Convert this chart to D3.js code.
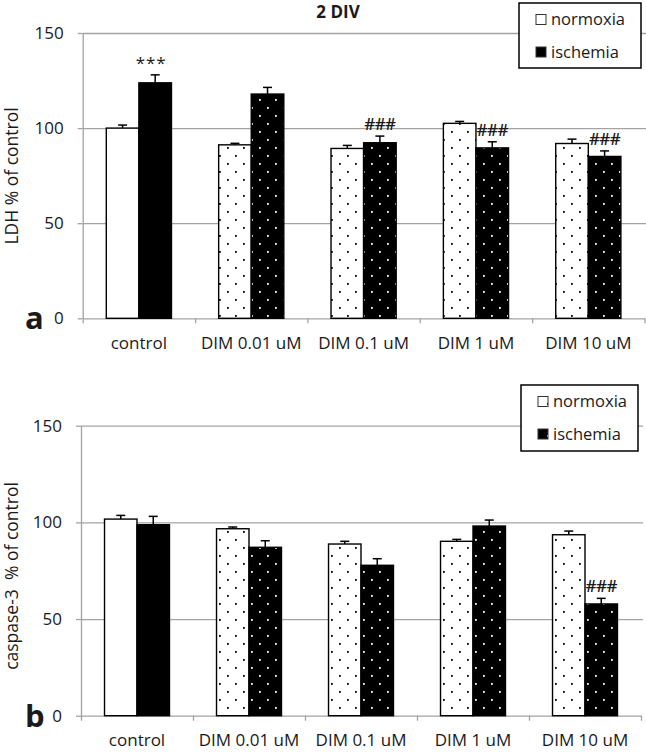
<!DOCTYPE html>
<html><head><meta charset="utf-8">
<script src="https://cdn.jsdelivr.net/npm/d3@7"></script>
<style>body{margin:0;background:#fff} svg{display:block} text{font-family:"Open Sans",sans-serif;fill:#1a1a1a}</style>
</head><body><svg id="c" width="646" height="753"></svg>
<script>
const categories = ["control", "DIM 0.01 uM", "DIM 0.1 uM", "DIM 1 uM", "DIM 10 uM"];
const seriesNames = ["normoxia", "ischemia"];
const dotted = [false, true, true, true, true];
const yTicks = [0, 50, 100, 150];

const ldhNormoxia = [100, 91.2, 89.3, 102.5, 91.9];
const ldhNormoxiaErr = [1.6, 0.8, 1.6, 1.0, 2.3];
const ldhIschemia = [123.8, 117.9, 92.3, 89.6, 85.1];
const ldhIschemiaErr = [4.2, 3.5, 3.5, 3.2, 2.9];
const ldhMarks = ["***", "", "###", "###", "###"];

const casNormoxia = [101.7, 96.7, 88.8, 90.2, 93.6];
const casNormoxiaErr = [1.9, 0.9, 1.4, 1.0, 1.9];
const casIschemia = [98.8, 87.1, 77.8, 98.1, 57.8];
const casIschemiaErr = [4.3, 3.4, 3.4, 3.1, 2.9];
const casMarks = ["", "", "", "", "###"];

const svg = d3.select("#c");
const defs = svg.append("defs");
function dotPattern(id, bg, fg) {
  const p = defs.append("pattern").attr("id", id).attr("patternUnits", "userSpaceOnUse")
    .attr("width", 16).attr("height", 16);
  p.append("rect").attr("width", 16).attr("height", 16).attr("fill", bg);
  [[3, 3], [11, 11]].forEach(([x, y]) => p.append("rect").attr("x", x).attr("y", y)
    .attr("width", 1.8).attr("height", 1.8).attr("fill", fg));
}
dotPattern("dotW", "#fff", "#000");
dotPattern("dotB", "#000", "#fff");

const panels = [
  { norm: ldhNormoxia, normErr: ldhNormoxiaErr, isch: ldhIschemia, ischErr: ldhIschemiaErr, marks: ldhMarks,
    yLabel: "LDH % of control", yLabelC: 176, letter: "a", letterY: 329,
    x0: 82.7, x1: 644.5, yTop: 33, yZero: 318.3, lx: 519, ly: 3, lw: 122, lh: 65, title: "2 DIV" },
  { norm: casNormoxia, normErr: casNormoxiaErr, isch: casIschemia, ischErr: casIschemiaErr, marks: casMarks,
    yLabel: "caspase-3  % of control", yLabelC: 576, letter: "b", letterY: 727,
    x0: 81, x1: 641, yTop: 425.7, yZero: 715.7, lx: 521, ly: 385, lw: 117, lh: 66, title: null }
];

const gridColor = "#a3a3a3";

panels.forEach(p => {
  const g = svg.append("g");
  const x = d3.scaleBand().domain(categories).range([p.x0, p.x1]).paddingInner(0.42).paddingOuter(0.21);
  const xs = d3.scaleBand().domain(seriesNames).range([0, x.bandwidth()]);
  const y = d3.scaleLinear().domain([0, 150]).range([p.yZero, p.yTop]);
  const xb = d3.scaleLinear().domain([0, categories.length]).range([p.x0, p.x1]);

  // gridlines
  const grid = g.append("g").attr("transform", `translate(${p.x0},0)`)
    .call(d3.axisLeft(y).tickValues(yTicks.filter(d => d > 0)).tickSize(-(p.x1 - p.x0 + 2)).tickFormat(""));
  grid.select(".domain").remove();
  grid.selectAll("line").attr("stroke", gridColor).attr("stroke-width", 1.3);

  // y axis
  const ya = g.append("g").attr("transform", `translate(${p.x0},0)`)
    .call(d3.axisLeft(y).tickValues(yTicks).tickSize(5).tickSizeOuter(0).tickPadding(14));
  ya.select(".domain").attr("stroke", gridColor).attr("stroke-width", 1.3);
  ya.selectAll("line").attr("stroke", gridColor).attr("stroke-width", 1.3);
  ya.selectAll("text").attr("font-size", 17).attr("font-family", "Open Sans").attr("fill", "#1a1a1a");

  // x axis boundaries ticks
  const xa = g.append("g").attr("transform", `translate(0,${p.yZero})`)
    .call(d3.axisBottom(xb).tickValues(d3.range(categories.length + 1)).tickSize(5).tickSizeOuter(0).tickFormat(""));
  xa.select(".domain").attr("stroke", gridColor).attr("stroke-width", 1.3);
  xa.selectAll("line").attr("stroke", gridColor).attr("stroke-width", 1.3);
  // x labels
  const xl = g.append("g").attr("transform", `translate(0,${p.yZero})`)
    .call(d3.axisBottom(x).tickSize(0).tickPadding(18.5));
  xl.select(".domain").remove();
  xl.selectAll("text").attr("font-size", 17).attr("font-family", "Open Sans").attr("fill", "#1a1a1a");

  // bars
  const bars = [];
  categories.forEach((c, i) => {
    bars.push({ c, s: "normoxia", v: p.norm[i], e: p.normErr[i], fill: dotted[i] ? "url(#dotW)" : "#fff" });
    bars.push({ c, s: "ischemia", v: p.isch[i], e: p.ischErr[i], fill: dotted[i] ? "url(#dotB)" : "#000", m: p.marks[i] });
  });
  const cx = d => x(d.c) + xs(d.s) + xs.bandwidth() / 2;
  g.append("g").selectAll("line").data(bars).join("line")
    .attr("x1", cx).attr("x2", cx)
    .attr("y1", d => y(d.v)).attr("y2", d => y(d.v + d.e)).attr("stroke", "#000").attr("stroke-width", 1.5);
  g.append("g").selectAll("line").data(bars).join("line")
    .attr("x1", d => cx(d) - 4.5).attr("x2", d => cx(d) + 4.5)
    .attr("y1", d => y(d.v + d.e)).attr("y2", d => y(d.v + d.e)).attr("stroke", "#000").attr("stroke-width", 1.5);
  g.append("g").selectAll("rect").data(bars).join("rect")
    .attr("x", d => x(d.c) + xs(d.s)).attr("width", xs.bandwidth())
    .attr("y", d => y(d.v)).attr("height", d => y(0) - y(d.v))
    .attr("fill", d => d.fill).attr("stroke", "#000").attr("stroke-width", 1.4);
  g.append("g").selectAll("text").data(bars.filter(d => d.m)).join("text")
    .attr("x", d => cx(d) - (d.m === "***" ? 4 : 0))
    .attr("y", d => y(d.v + d.e) - 6)
    .attr("text-anchor", "middle").attr("font-size", 17)
    .attr("font-weight", d => d.m === "###" ? 600 : 400)
    .attr("letter-spacing", d => d.m === "***" ? 1 : -0.5)
    .attr("fill", "#111")
    .text(d => d.m);

  // y label
  g.append("text").attr("transform", `translate(18,${p.yLabelC}) rotate(-90)`)
    .attr("text-anchor", "middle").attr("font-size", 17.5).style("white-space", "pre").text(p.yLabel);
  // panel letter
  g.append("text").attr("x", 25).attr("y", p.letterY).attr("font-family", "Liberation Sans, Arial, sans-serif")
    .attr("font-weight", "bold").attr("font-size", 31).attr("fill", "#000").text(p.letter);
  // title
  if (p.title) g.append("text").attr("x", 338).attr("y", 18).attr("text-anchor", "middle")
    .attr("font-weight", "bold").attr("font-size", 17).attr("fill", "#000").text(p.title);

  // legend
  const lg = g.append("g");
  lg.append("rect").attr("x", p.lx).attr("y", p.ly).attr("width", p.lw).attr("height", p.lh)
    .attr("fill", "#fff").attr("stroke", "#000").attr("stroke-width", 1.5);
  seriesNames.forEach((s, i) => {
    const cy = p.ly + 16.5 + i * 32.5;
    lg.append("rect").attr("x", p.lx + 17).attr("y", cy - 5).attr("width", 10).attr("height", 10)
      .attr("fill", i === 0 ? "url(#dotW)" : "url(#dotB)").attr("stroke", "#333").attr("stroke-width", 1);
    lg.append("text").attr("x", p.lx + 32).attr("y", cy).attr("dy", "0.35em").attr("font-size", 16.5).text(s);
  });
});
</script></body></html>
